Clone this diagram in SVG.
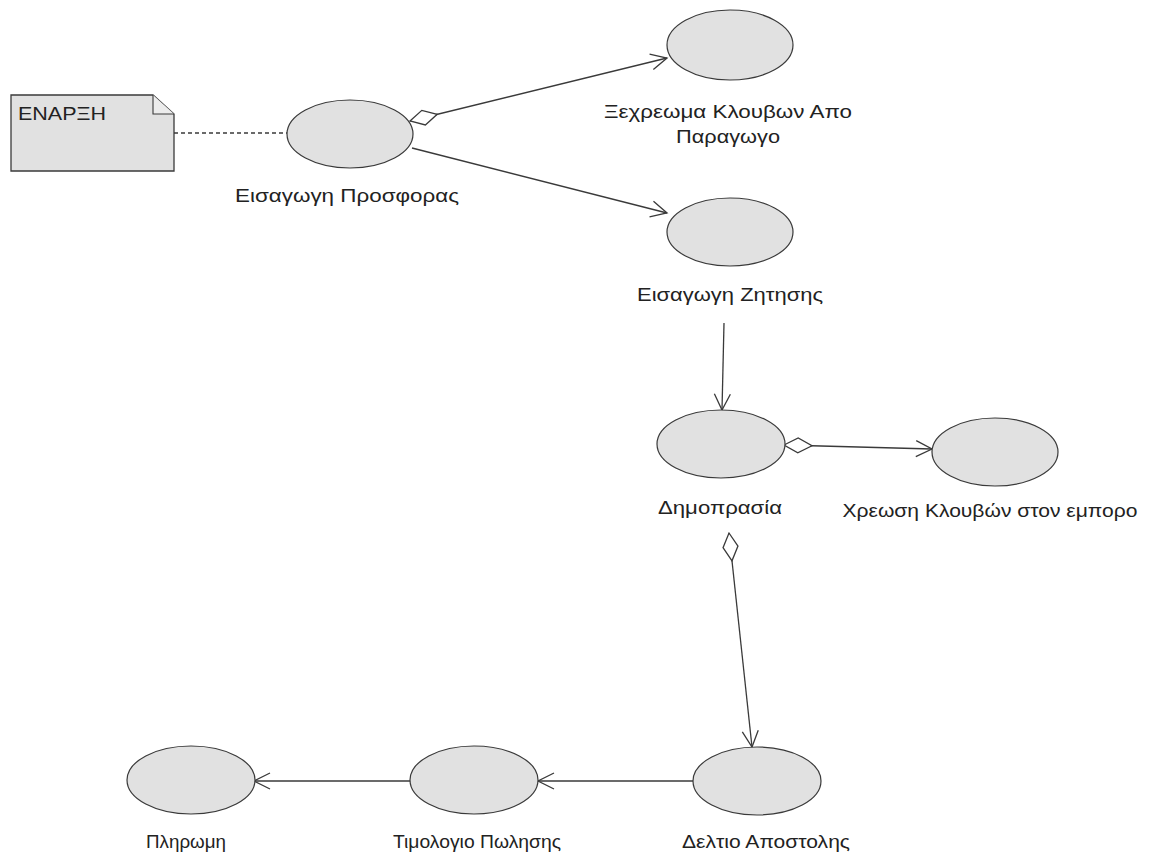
<svg xmlns="http://www.w3.org/2000/svg" width="1159" height="859" viewBox="0 0 1159 859">
<style>
.uc{fill:#e1e1e1;stroke:#3a3a3a;stroke-width:1.2}
.lbl{font-family:"Liberation Sans",Arial,sans-serif;font-size:18px;fill:#222;text-anchor:middle}
.edge{fill:none;stroke:#3a3a3a;stroke-width:1.3}
.dash{stroke-dasharray:4 3}
.note{fill:#e1e1e1;stroke:#3a3a3a;stroke-width:1.3}
</style>
<defs>
<marker id="arrow" markerUnits="userSpaceOnUse" viewBox="-18 -10 20 20" markerWidth="20" markerHeight="20" refX="0" refY="0" orient="auto">
<path d="M-16,-8 L0,0 L-16,8" fill="none" stroke="#3a3a3a" stroke-width="1.3"/>
</marker>
<marker id="diamond" markerUnits="userSpaceOnUse" viewBox="-1 -10 32 20" markerWidth="32" markerHeight="20" refX="0" refY="0" orient="auto">
<path d="M0,0 L14,-7.5 L28,0 L14,7.5 Z" fill="#fff" stroke="#3a3a3a" stroke-width="1.3"/>
</marker>
</defs>
<rect width="1159" height="859" fill="#fff"/>
<g id="connectors">
<path class="edge dash" d="M174,133 L287,133"/>
<path class="edge" d="M410,121 L667,58" marker-start="url(#diamond)" marker-end="url(#arrow)"/>
<path class="edge" d="M412,148 L667,213" marker-end="url(#arrow)"/>
<path class="edge" d="M724,323 L722,410" marker-end="url(#arrow)"/>
<path class="edge" d="M784,445 L932,449" marker-start="url(#diamond)" marker-end="url(#arrow)"/>
<path class="edge" d="M729,533 L752,747" marker-start="url(#diamond)" marker-end="url(#arrow)"/>
<path class="edge" d="M693,781 L538,781" marker-end="url(#arrow)"/>
<path class="edge" d="M411,781 L254,781" marker-end="url(#arrow)"/>
</g>
<g id="note-enarxi">
<path class="note" d="M11,95 L153,95 L174,114 L174,171 L11,171 Z"/>
<path d="M153,95 L153,114 L174,114" fill="#ececec" stroke="#3a3a3a" stroke-width="1.1"/>
<text x="18" y="120" font-family="Liberation Sans, Arial, sans-serif" font-size="18" fill="#222" textLength="88" lengthAdjust="spacingAndGlyphs">ΕΝΑΡΞΗ</text>
</g>
<g id="uc-eisagogi-prosforas">
<ellipse class="uc" cx="350" cy="134" rx="63" ry="34"/>
<text class="lbl" x="347" y="202" textLength="224" lengthAdjust="spacingAndGlyphs">Εισαγωγη Προσφορας</text>
</g>
<g id="uc-xexreoma">
<ellipse class="uc" cx="730" cy="45" rx="63" ry="35"/>
<text class="lbl" x="728" y="118" textLength="248" lengthAdjust="spacingAndGlyphs">Ξεχρεωμα Κλουβων Απο</text>
<text class="lbl" x="728" y="143" textLength="104" lengthAdjust="spacingAndGlyphs">Παραγωγο</text>
</g>
<g id="uc-eisagogi-zitisis">
<ellipse class="uc" cx="730" cy="232" rx="63" ry="34"/>
<text class="lbl" x="730" y="301" textLength="186" lengthAdjust="spacingAndGlyphs">Εισαγωγη Ζητησης</text>
</g>
<g id="uc-dimoprasia">
<ellipse class="uc" cx="721" cy="444" rx="64" ry="34"/>
<text class="lbl" x="720" y="514" textLength="124" lengthAdjust="spacingAndGlyphs">Δημοπρασία</text>
</g>
<g id="uc-xreosi">
<ellipse class="uc" cx="995" cy="452" rx="63" ry="34"/>
<text class="lbl" x="990" y="517" textLength="295" lengthAdjust="spacingAndGlyphs">Χρεωση Κλουβών στον εμπορο</text>
</g>
<g id="uc-pliromi">
<ellipse class="uc" cx="191" cy="780" rx="64" ry="34"/>
<text class="lbl" x="186" y="848" textLength="80" lengthAdjust="spacingAndGlyphs">Πληρωμη</text>
</g>
<g id="uc-timologio">
<ellipse class="uc" cx="474" cy="780" rx="64" ry="34"/>
<text class="lbl" x="477" y="848" textLength="168" lengthAdjust="spacingAndGlyphs">Τιμολογιο Πωλησης</text>
</g>
<g id="uc-deltio">
<ellipse class="uc" cx="757" cy="781" rx="64" ry="34"/>
<text class="lbl" x="766" y="848" textLength="168" lengthAdjust="spacingAndGlyphs">Δελτιο Αποστολης</text>
</g>
</svg>
